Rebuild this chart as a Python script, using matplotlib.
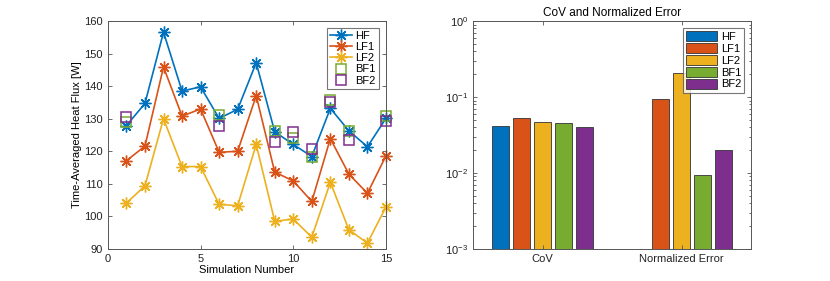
import numpy as np
import matplotlib
matplotlib.use('Agg')
import matplotlib.pyplot as plt
from matplotlib.ticker import LogLocator, NullFormatter

plt.rcParams['font.family'] = ['Liberation Sans', 'DejaVu Sans']
plt.rcParams['font.size'] = 8
plt.rcParams['mathtext.fontset'] = 'custom'
plt.rcParams['mathtext.rm'] = 'Liberation Sans'

sim = list(range(1, 16))
hf = [127.9, 134.7, 156.6, 138.5, 139.8, 130.1, 132.9, 147.2, 126.0, 122.1, 118.4, 133.2, 126.3, 121.4, 130.1]
lf1 = [117.1, 121.6, 145.9, 130.8, 133.0, 119.7, 120.0, 137.1, 113.6, 110.9, 104.6, 123.9, 113.0, 107.1, 118.6]
lf2 = [104.1, 109.4, 130.0, 115.3, 115.3, 103.7, 103.3, 122.1, 98.5, 99.2, 93.6, 110.5, 95.9, 91.8, 102.9]
bf_sim = [1, 6, 9, 10, 11, 12, 13, 15]
bf1 = [128.9, 131.1, 126.3, 124.0, 118.1, 135.7, 126.2, 130.8]
bf2 = [130.4, 127.8, 123.0, 126.0, 120.6, 135.0, 123.5, 129.4]

groups = ['CoV', 'Normalized Error']
models = ['HF', 'LF1', 'LF2', 'BF1', 'BF2']
cov = [0.0415, 0.0524, 0.0469, 0.0455, 0.0399]
nerr = [1e-4, 0.0931, 0.207, 0.0095, 0.0203]

blue = '#0072BD'
orange = '#D95319'
yellow = '#EDB120'
green = '#77AC30'
purple = '#7E2F8E'
axcol = '#555555'

fig = plt.figure(figsize=(8.3, 2.81), dpi=100)
ax1 = fig.add_axes([0.13, 0.114, 0.335, 0.811])
ax2 = fig.add_axes([0.57, 0.114, 0.335, 0.811])

star = (8, 2, 0)
ax1.plot(sim, hf, color=blue, marker=star, ms=8.5, lw=1.2, label='HF', clip_on=False)
ax1.plot(sim, lf1, color=orange, marker=star, ms=8.5, lw=1.2, label='LF1', clip_on=False)
ax1.plot(sim, lf2, color=yellow, marker=star, ms=8.5, lw=1.2, label='LF2', clip_on=False)
ax1.plot(bf_sim, bf1, ls='none', marker='s', ms=6.5, mfc='none', mec=green, mew=1.1,
         label='BF1', clip_on=False)
ax1.plot(bf_sim, bf2, ls='none', marker='s', ms=6.5, mfc='none', mec=purple, mew=1.1,
         label='BF2', clip_on=False)
ax1.set_xlim(0, 15)
ax1.set_ylim(90, 160)
ax1.set_xticks([0, 5, 10, 15])
ax1.set_yticks(range(90, 161, 10))
ax1.set_xlabel('Simulation Number', labelpad=1)
ax1.set_ylabel('Time-Averaged Heat Flux [W]', labelpad=2)
leg1 = ax1.legend(loc='upper right', fancybox=False, edgecolor=axcol, handlelength=2.0,
                  borderpad=0.3, labelspacing=0.1, handletextpad=0.3, borderaxespad=0.6)
leg1.get_frame().set_linewidth(0.8)

x = np.arange(1, len(groups) + 1)
offs = np.array([-2, -1, 0, 1, 2]) * 0.151
cols = [blue, orange, yellow, green, purple]
for i, m in enumerate(models):
    vals = [cov[i], nerr[i]]
    ax2.bar(x + offs[i], vals, width=0.122, bottom=1e-5, color=cols[i],
            edgecolor='#333333', linewidth=0.6, label=m)
ax2.set_yscale('log')
ax2.set_ylim(1e-3, 1)
ax2.set_xlim(0.5, 2.5)
ax2.set_xticks(x)
ax2.set_xticklabels(groups)
ax2.yaxis.set_minor_locator(LogLocator(base=10, subs=np.arange(2, 10)))
ax2.yaxis.set_minor_formatter(NullFormatter())
ax2.set_title('CoV and Normalized Error', fontsize=8.5, pad=4)
leg2 = ax2.legend(loc='upper right', fancybox=False, edgecolor=axcol, handlelength=2.8,
                  handleheight=1.0, borderpad=0.3, labelspacing=0.1, handletextpad=0.3,
                  borderaxespad=0.6)
leg2.get_frame().set_linewidth(0.8)

for ax in (ax1, ax2):
    for s in ax.spines.values():
        s.set_color(axcol)
        s.set_linewidth(0.7)
    ax.tick_params(which='both', direction='in', top=True, right=True, color=axcol,
                   labelcolor='#222222', width=0.6)
    ax.tick_params(which='major', length=3)
    ax.tick_params(which='minor', length=1.8)

fig.savefig('out.png', dpi=100)
